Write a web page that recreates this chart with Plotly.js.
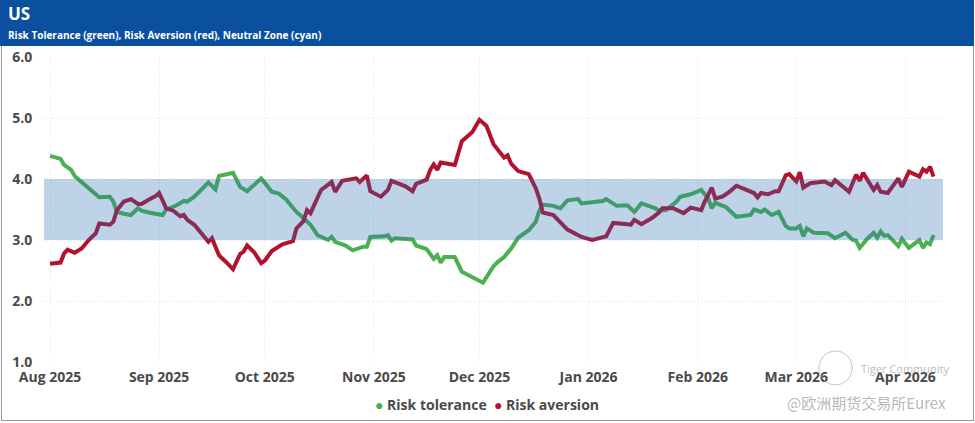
<!DOCTYPE html>
<html>
<head>
<meta charset="utf-8">
<script src="https://cdn.plot.ly/plotly-3.0.1.min.js"></script>
<style>
  html, body { margin: 0; padding: 0; background: #fff; }
  #wrap { position: absolute; left: 1px; top: 0; width: 971px; height: 420px;
          border-left: 1px solid #9a9a9a; border-right: 1px solid #9a9a9a; border-bottom: 1px solid #9a9a9a; }
  #header { position: absolute; left: 0; top: 0; width: 974px; height: 46px; background: #0b4f9f; z-index: 2; }
  #t1 { position: absolute; left: 8px; top: 2px; color: #fff; font: 700 17px "Open Sans", sans-serif; }
  #t2 { position: absolute; left: 8px; top: 28px; color: #fff; font: 700 10px "Open Sans", sans-serif; }
  #chart { position: absolute; left: 0; top: 0; width: 975px; height: 423px; z-index: 1; }
</style>
</head>
<body>
<div id="wrap"></div>
<div id="header"><div id="t1">US</div><div id="t2">Risk Tolerance (green), Risk Aversion (red), Neutral Zone (cyan)</div></div>
<div id="chart"></div>
<script>
// ---- data ----
const tolDates = ["2025-08-01","2025-08-04","2025-08-05","2025-08-07","2025-08-08","2025-08-10","2025-08-12","2025-08-15","2025-08-18","2025-08-19","2025-08-20","2025-08-22","2025-08-24","2025-08-26","2025-08-27","2025-08-29","2025-09-02","2025-09-03","2025-09-06","2025-09-08","2025-09-09","2025-09-11","2025-09-15","2025-09-17","2025-09-18","2025-09-22","2025-09-24","2025-09-26","2025-09-30","2025-10-01","2025-10-03","2025-10-05","2025-10-07","2025-10-09","2025-10-10","2025-10-12","2025-10-14","2025-10-16","2025-10-19","2025-10-20","2025-10-21","2025-10-24","2025-10-26","2025-10-29","2025-10-30","2025-10-31","2025-11-04","2025-11-05","2025-11-06","2025-11-07","2025-11-12","2025-11-13","2025-11-16","2025-11-18","2025-11-19","2025-11-20","2025-11-21","2025-11-24","2025-11-26","2025-12-02","2025-12-03","2025-12-05","2025-12-06","2025-12-08","2025-12-10","2025-12-12","2025-12-15","2025-12-17","2025-12-18","2025-12-19","2025-12-22","2025-12-24","2025-12-26","2025-12-29","2025-12-30","2026-01-02","2026-01-05","2026-01-06","2026-01-09","2026-01-12","2026-01-14","2026-01-16","2026-01-20","2026-01-21","2026-01-23","2026-01-26","2026-01-27","2026-01-30","2026-02-02","2026-02-04","2026-02-05","2026-02-06","2026-02-09","2026-02-12","2026-02-16","2026-02-17","2026-02-19","2026-02-20","2026-02-22","2026-02-24","2026-02-26","2026-02-27","2026-03-01","2026-03-02","2026-03-03","2026-03-04","2026-03-06","2026-03-10","2026-03-12","2026-03-15","2026-03-17","2026-03-18","2026-03-19","2026-03-21","2026-03-23","2026-03-24","2026-03-25","2026-03-26","2026-03-27","2026-03-30","2026-03-31","2026-04-02","2026-04-05","2026-04-06","2026-04-07","2026-04-08","2026-04-09"];
const riskTolerance = [4.38,4.33,4.23,4.15,4.05,3.96,3.85,3.70,3.71,3.63,3.46,3.43,3.41,3.52,3.48,3.45,3.41,3.50,3.57,3.64,3.63,3.71,3.94,3.83,4.05,4.10,3.87,3.80,4.01,3.94,3.79,3.76,3.67,3.53,3.46,3.36,3.25,3.08,3.00,3.05,2.97,2.91,2.83,2.89,2.89,3.05,3.06,3.08,2.99,3.03,3.01,2.91,2.85,2.69,2.75,2.63,2.72,2.72,2.48,2.30,2.40,2.57,2.63,2.72,2.86,3.04,3.16,3.30,3.48,3.58,3.56,3.52,3.65,3.67,3.60,3.62,3.64,3.67,3.56,3.57,3.46,3.60,3.52,3.48,3.49,3.63,3.71,3.75,3.82,3.68,3.52,3.61,3.54,3.38,3.41,3.50,3.46,3.50,3.41,3.46,3.23,3.19,3.19,3.23,3.06,3.19,3.12,3.11,3.03,3.12,3.00,2.99,2.87,3.01,3.12,3.04,3.14,3.07,3.08,2.90,3.02,2.87,3.00,2.87,2.96,2.93,3.08];

const avDates = ["2025-08-01","2025-08-04","2025-08-05","2025-08-06","2025-08-08","2025-08-10","2025-08-12","2025-08-14","2025-08-15","2025-08-18","2025-08-19","2025-08-20","2025-08-22","2025-08-24","2025-08-26","2025-08-27","2025-08-29","2025-08-31","2025-09-01","2025-09-03","2025-09-05","2025-09-07","2025-09-08","2025-09-09","2025-09-11","2025-09-13","2025-09-15","2025-09-16","2025-09-18","2025-09-20","2025-09-22","2025-09-24","2025-09-25","2025-09-26","2025-09-28","2025-09-30","2025-10-01","2025-10-03","2025-10-06","2025-10-09","2025-10-10","2025-10-12","2025-10-13","2025-10-14","2025-10-17","2025-10-20","2025-10-21","2025-10-23","2025-10-27","2025-10-28","2025-10-30","2025-10-31","2025-11-03","2025-11-05","2025-11-06","2025-11-10","2025-11-12","2025-11-13","2025-11-15","2025-11-16","2025-11-17","2025-11-18","2025-11-19","2025-11-20","2025-11-24","2025-11-26","2025-11-29","2025-12-01","2025-12-03","2025-12-05","2025-12-08","2025-12-09","2025-12-10","2025-12-12","2025-12-15","2025-12-17","2025-12-18","2025-12-19","2025-12-22","2025-12-26","2025-12-30","2026-01-02","2026-01-06","2026-01-08","2026-01-12","2026-01-13","2026-01-14","2026-01-16","2026-01-19","2026-01-21","2026-01-22","2026-01-24","2026-01-25","2026-01-28","2026-01-30","2026-02-02","2026-02-03","2026-02-05","2026-02-06","2026-02-08","2026-02-10","2026-02-12","2026-02-15","2026-02-17","2026-02-18","2026-02-19","2026-02-21","2026-02-23","2026-02-24","2026-02-26","2026-02-27","2026-03-01","2026-03-02","2026-03-03","2026-03-05","2026-03-09","2026-03-11","2026-03-12","2026-03-16","2026-03-18","2026-03-19","2026-03-20","2026-03-23","2026-03-24","2026-03-25","2026-03-27","2026-03-30","2026-03-31","2026-04-02","2026-04-05","2026-04-06","2026-04-07","2026-04-08","2026-04-09"];
const riskAversion = [2.61,2.63,2.78,2.84,2.79,2.86,3.00,3.11,3.27,3.25,3.30,3.49,3.63,3.67,3.59,3.59,3.66,3.72,3.77,3.52,3.48,3.39,3.41,3.33,3.25,3.11,2.97,3.03,2.75,2.64,2.52,2.77,2.81,2.91,2.80,2.62,2.66,2.82,2.93,2.98,3.19,3.31,3.49,3.44,3.82,3.95,3.79,3.97,4.01,3.95,4.06,3.80,3.71,3.82,3.97,3.88,3.80,3.92,3.96,3.99,4.15,4.24,4.15,4.27,4.23,4.62,4.77,4.97,4.87,4.57,4.35,4.39,4.25,4.13,4.08,3.85,3.68,3.45,3.41,3.17,3.05,3.00,3.06,3.28,3.26,3.25,3.33,3.26,3.36,3.45,3.52,3.53,3.52,3.44,3.53,3.49,3.63,3.86,3.68,3.71,3.79,3.89,3.81,3.77,3.70,3.77,3.75,3.80,3.80,4.06,4.08,3.96,4.11,3.86,3.93,3.96,3.90,3.98,3.79,4.07,3.97,4.10,3.82,3.90,3.79,3.77,4.01,3.87,4.12,4.04,4.16,4.12,4.20,4.04];

const neutralLow = 3.0, neutralHigh = 4.0;
const seriesNames = ["Risk tolerance", "Risk aversion"];
const seriesColors = ["#4cb050", "#b3122e"];

// ---- chart ----
const axisFont = {family: "Open Sans, sans-serif", size: 14, color: "#4a4a4a", weight: "bold"};

const traces = [
  {x: tolDates, y: riskTolerance, name: seriesNames[0], type: "scatter", mode: "lines",
   line: {color: seriesColors[0], width: 4}, showlegend: false, hoverinfo: "x+y"},
  {x: avDates, y: riskAversion, name: seriesNames[1], type: "scatter", mode: "lines",
   line: {color: seriesColors[1], width: 4}, showlegend: false, hoverinfo: "x+y"}
];

const layout = {
  width: 975, height: 423,
  margin: {l: 44, r: 32, t: 57, b: 61},
  paper_bgcolor: "rgba(0,0,0,0)", plot_bgcolor: "rgba(0,0,0,0)",
  showlegend: false,
  xaxis: {
    type: "date",
    range: ["2025-07-30 07:00", "2026-04-11 16:30"],
    tick0: "2025-08-01", dtick: "M1", tickformat: "%b %Y",
    showgrid: true, gridcolor: "#e4e4e4", griddash: "1px,2px", gridwidth: 1,
    zeroline: false, showline: false,
    ticks: "outside", ticklen: 2, tickcolor: "rgba(0,0,0,0)",
    tickfont: axisFont
  },
  yaxis: {
    range: [1, 6], dtick: 1, tick0: 1, tickformat: ".1f",
    showgrid: true, gridcolor: "#e4e4e4", griddash: "1px,2px", gridwidth: 1,
    zeroline: false, showline: false,
    ticks: "outside", ticklen: 8, tickcolor: "rgba(0,0,0,0)",
    tickfont: axisFont
  },
  shapes: [
    {type: "rect", xref: "paper", yref: "y", x0: 0, x1: 1, y0: neutralLow, y1: neutralHigh,
     fillcolor: "rgba(40,110,180,0.30)", line: {width: 0}, layer: "above"},
    {type: "circle", xref: "paper", yref: "paper", x0: 0.862, x1: 0.899, y0: -0.075, y1: 0.036,
     line: {color: "rgba(170,170,170,0.7)", width: 1}, fillcolor: "rgba(0,0,0,0)"}
  ],
  annotations: [
    {xref: "paper", yref: "paper", x: 0.493, y: -0.138, xanchor: "center", yanchor: "middle", showarrow: false,
     text: '<span style="color:' + seriesColors[0] + '">●</span> ' + seriesNames[0] +
           '  <span style="color:' + seriesColors[1] + '">●</span> ' + seriesNames[1],
     font: {family: "Open Sans, sans-serif", size: 14, color: "#4a4a4a", weight: "bold"}},
    {xref: "paper", yref: "paper", x: 0.958, y: -0.022, xanchor: "center", yanchor: "middle", showarrow: false,
     text: "Tiger Community", font: {family: "Open Sans, sans-serif", size: 11, color: "rgba(170,170,170,0.8)"}},
    {xref: "paper", yref: "paper", x: 0.915, y: -0.134, xanchor: "center", yanchor: "middle", showarrow: false,
     text: "@欧洲期货交易所Eurex", font: {family: "Noto Sans CJK SC, sans-serif", size: 15, color: "rgba(165,165,165,0.8)"}}
  ]
};

Plotly.newPlot("chart", traces, layout, {displayModeBar: false, staticPlot: true});
</script>
</body>
</html>
